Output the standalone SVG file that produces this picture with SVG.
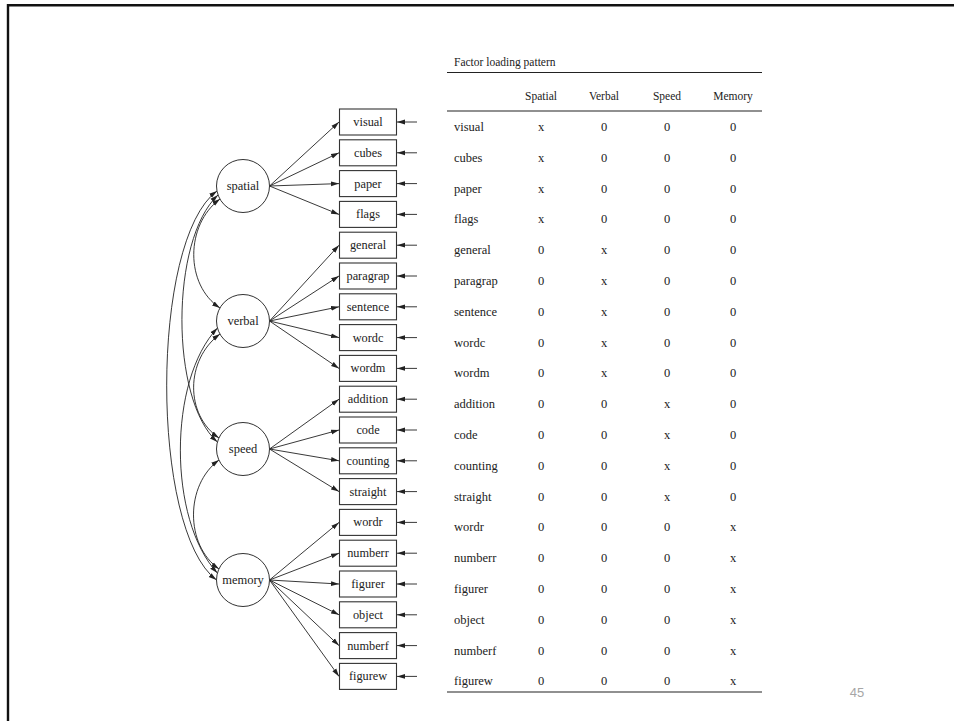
<svg xmlns="http://www.w3.org/2000/svg" width="954" height="721" viewBox="0 0 954 721">
<style>
text{font-family:"Liberation Serif","Times New Roman",serif;fill:#222}
.bx{fill:#fff;stroke:#333;stroke-width:1.1}
.ci{fill:#fff;stroke:#333;stroke-width:1}
.bt{font-size:12.3px;text-anchor:middle}
.ct{font-size:12.5px;text-anchor:middle}
.ln{fill:none;stroke:#222;stroke-width:0.9}
.tt{font-size:12.5px}
.tc{font-size:12.5px;text-anchor:middle}
.th{font-size:11.5px;text-anchor:middle}
.rule{stroke:#222;stroke-width:1.1}
</style>
<defs>
<marker id="ah" markerUnits="userSpaceOnUse" markerWidth="8" markerHeight="6" viewBox="0 0 8 6" refX="8" refY="3" orient="auto-start-reverse">
<path d="M0,0.6 L8,3 L0,5.4 z" fill="#222"/>
</marker>
</defs>
<path d="M8,721 V5.3 H954" fill="none" stroke="#111" stroke-width="2.4"/>

<g id="connectors">
<g class="ln" marker-end="url(#ah)">
<path d="M269.5,186 L339,122"/>
<path d="M269.5,186 L339,152.8"/>
<path d="M269.5,186 L339,183.6"/>
<path d="M269.5,186 L339,214.4"/>
<path d="M269.5,321 L339,245.2"/>
<path d="M269.5,321 L339,276"/>
<path d="M269.5,321 L339,306.8"/>
<path d="M269.5,321 L339,337.6"/>
<path d="M269.5,321 L339,368.4"/>
<path d="M269.5,449 L339,399.2"/>
<path d="M269.5,449 L339,430"/>
<path d="M269.5,449 L339,460.8"/>
<path d="M269.5,449 L339,491.6"/>
<path d="M269.5,580 L339,522.4"/>
<path d="M269.5,580 L339,553.2"/>
<path d="M269.5,580 L339,584"/>
<path d="M269.5,580 L339,614.8"/>
<path d="M269.5,580 L339,645.6"/>
<path d="M269.5,580 L339,676.4"/>
<path d="M417,122 H397"/>
<path d="M417,152.8 H397"/>
<path d="M417,183.6 H397"/>
<path d="M417,214.4 H397"/>
<path d="M417,245.2 H397"/>
<path d="M417,276 H397"/>
<path d="M417,306.8 H397"/>
<path d="M417,337.6 H397"/>
<path d="M417,368.4 H397"/>
<path d="M417,399.2 H397"/>
<path d="M417,430 H397"/>
<path d="M417,460.8 H397"/>
<path d="M417,491.6 H397"/>
<path d="M417,522.4 H397"/>
<path d="M417,553.2 H397"/>
<path d="M417,584 H397"/>
<path d="M417,614.8 H397"/>
<path d="M417,645.6 H397"/>
<path d="M417,676.4 H397"/>
</g>
<g class="ln" marker-start="url(#ah)" marker-end="url(#ah)">
<path d="M220,199 C185,225 185,285 220,308"/>
<path d="M218,195 C170,240 170,400 217.4,442"/>
<path d="M217,191 C150,240 150,530 216.5,580"/>
<path d="M220,334 C185,360 185,415 219,438"/>
<path d="M217.5,328 C168,380 168,520 217.4,573"/>
<path d="M219,460 C185,485 185,545 219,569"/>
</g>
</g>

<g id="spatial"><circle class="ci" cx="243" cy="186" r="26.5"/><text class="ct" x="243" y="190">spatial</text></g>
<g id="verbal"><circle class="ci" cx="243" cy="321" r="26.5"/><text class="ct" x="243" y="325">verbal</text></g>
<g id="speed"><circle class="ci" cx="243" cy="449" r="26.5"/><text class="ct" x="243" y="453">speed</text></g>
<g id="memory"><circle class="ci" cx="243" cy="580" r="26.5"/><text class="ct" x="243" y="584">memory</text></g>

<g id="visual"><rect class="bx" x="339.5" y="109" width="57" height="26"/><text class="bt" x="368" y="126">visual</text></g>
<g id="cubes"><rect class="bx" x="339.5" y="139.8" width="57" height="26"/><text class="bt" x="368" y="156.8">cubes</text></g>
<g id="paper"><rect class="bx" x="339.5" y="170.6" width="57" height="26"/><text class="bt" x="368" y="187.6">paper</text></g>
<g id="flags"><rect class="bx" x="339.5" y="201.4" width="57" height="26"/><text class="bt" x="368" y="218.4">flags</text></g>
<g id="general"><rect class="bx" x="339.5" y="232.2" width="57" height="26"/><text class="bt" x="368" y="249.2">general</text></g>
<g id="paragrap"><rect class="bx" x="339.5" y="263" width="57" height="26"/><text class="bt" x="368" y="280">paragrap</text></g>
<g id="sentence"><rect class="bx" x="339.5" y="293.8" width="57" height="26"/><text class="bt" x="368" y="310.8">sentence</text></g>
<g id="wordc"><rect class="bx" x="339.5" y="324.6" width="57" height="26"/><text class="bt" x="368" y="341.6">wordc</text></g>
<g id="wordm"><rect class="bx" x="339.5" y="355.4" width="57" height="26"/><text class="bt" x="368" y="372.4">wordm</text></g>
<g id="addition"><rect class="bx" x="339.5" y="386.2" width="57" height="26"/><text class="bt" x="368" y="403.2">addition</text></g>
<g id="code"><rect class="bx" x="339.5" y="417" width="57" height="26"/><text class="bt" x="368" y="434">code</text></g>
<g id="counting"><rect class="bx" x="339.5" y="447.8" width="57" height="26"/><text class="bt" x="368" y="464.8">counting</text></g>
<g id="straight"><rect class="bx" x="339.5" y="478.6" width="57" height="26"/><text class="bt" x="368" y="495.6">straight</text></g>
<g id="wordr"><rect class="bx" x="339.5" y="509.4" width="57" height="26"/><text class="bt" x="368" y="526.4">wordr</text></g>
<g id="numberr"><rect class="bx" x="339.5" y="540.2" width="57" height="26"/><text class="bt" x="368" y="557.2">numberr</text></g>
<g id="figurer"><rect class="bx" x="339.5" y="571" width="57" height="26"/><text class="bt" x="368" y="588">figurer</text></g>
<g id="object"><rect class="bx" x="339.5" y="601.8" width="57" height="26"/><text class="bt" x="368" y="618.8">object</text></g>
<g id="numberf"><rect class="bx" x="339.5" y="632.6" width="57" height="26"/><text class="bt" x="368" y="649.6">numberf</text></g>
<g id="figurew"><rect class="bx" x="339.5" y="663.4" width="57" height="26"/><text class="bt" x="368" y="680.4">figurew</text></g>

<g id="table">
<text x="454" y="66" style="font-size:11.5px">Factor loading pattern</text>
<line class="rule" x1="447" y1="72.5" x2="762" y2="72.5"/>
<g class="th">
<text x="541" y="100">Spatial</text><text x="604" y="100">Verbal</text><text x="667" y="100">Speed</text><text x="733" y="100">Memory</text>
</g>
<line class="rule" x1="447" y1="111" x2="762" y2="111"/>
<g class="tt">
<text x="454" y="131">visual</text>
<text x="454" y="161.8">cubes</text>
<text x="454" y="192.6">paper</text>
<text x="454" y="223.4">flags</text>
<text x="454" y="254.2">general</text>
<text x="454" y="285">paragrap</text>
<text x="454" y="315.8">sentence</text>
<text x="454" y="346.6">wordc</text>
<text x="454" y="377.4">wordm</text>
<text x="454" y="408.2">addition</text>
<text x="454" y="439">code</text>
<text x="454" y="469.8">counting</text>
<text x="454" y="500.6">straight</text>
<text x="454" y="531.4">wordr</text>
<text x="454" y="562.2">numberr</text>
<text x="454" y="593">figurer</text>
<text x="454" y="623.8">object</text>
<text x="454" y="654.6">numberf</text>
<text x="454" y="685.4">figurew</text>
</g>
<g class="tc">
<text x="541" y="131">x</text><text x="604" y="131">0</text><text x="667" y="131">0</text><text x="733" y="131">0</text>
<text x="541" y="161.8">x</text><text x="604" y="161.8">0</text><text x="667" y="161.8">0</text><text x="733" y="161.8">0</text>
<text x="541" y="192.6">x</text><text x="604" y="192.6">0</text><text x="667" y="192.6">0</text><text x="733" y="192.6">0</text>
<text x="541" y="223.4">x</text><text x="604" y="223.4">0</text><text x="667" y="223.4">0</text><text x="733" y="223.4">0</text>
<text x="541" y="254.2">0</text><text x="604" y="254.2">x</text><text x="667" y="254.2">0</text><text x="733" y="254.2">0</text>
<text x="541" y="285">0</text><text x="604" y="285">x</text><text x="667" y="285">0</text><text x="733" y="285">0</text>
<text x="541" y="315.8">0</text><text x="604" y="315.8">x</text><text x="667" y="315.8">0</text><text x="733" y="315.8">0</text>
<text x="541" y="346.6">0</text><text x="604" y="346.6">x</text><text x="667" y="346.6">0</text><text x="733" y="346.6">0</text>
<text x="541" y="377.4">0</text><text x="604" y="377.4">x</text><text x="667" y="377.4">0</text><text x="733" y="377.4">0</text>
<text x="541" y="408.2">0</text><text x="604" y="408.2">0</text><text x="667" y="408.2">x</text><text x="733" y="408.2">0</text>
<text x="541" y="439">0</text><text x="604" y="439">0</text><text x="667" y="439">x</text><text x="733" y="439">0</text>
<text x="541" y="469.8">0</text><text x="604" y="469.8">0</text><text x="667" y="469.8">x</text><text x="733" y="469.8">0</text>
<text x="541" y="500.6">0</text><text x="604" y="500.6">0</text><text x="667" y="500.6">x</text><text x="733" y="500.6">0</text>
<text x="541" y="531.4">0</text><text x="604" y="531.4">0</text><text x="667" y="531.4">0</text><text x="733" y="531.4">x</text>
<text x="541" y="562.2">0</text><text x="604" y="562.2">0</text><text x="667" y="562.2">0</text><text x="733" y="562.2">x</text>
<text x="541" y="593">0</text><text x="604" y="593">0</text><text x="667" y="593">0</text><text x="733" y="593">x</text>
<text x="541" y="623.8">0</text><text x="604" y="623.8">0</text><text x="667" y="623.8">0</text><text x="733" y="623.8">x</text>
<text x="541" y="654.6">0</text><text x="604" y="654.6">0</text><text x="667" y="654.6">0</text><text x="733" y="654.6">x</text>
<text x="541" y="685.4">0</text><text x="604" y="685.4">0</text><text x="667" y="685.4">0</text><text x="733" y="685.4">x</text>
</g>
<line class="rule" x1="447" y1="692" x2="762" y2="692"/>
</g>
<text x="857" y="697" style="font-family:'Liberation Sans',Arial,sans-serif;font-size:13px;fill:#a6a6a6;text-anchor:middle">45</text>
</svg>
